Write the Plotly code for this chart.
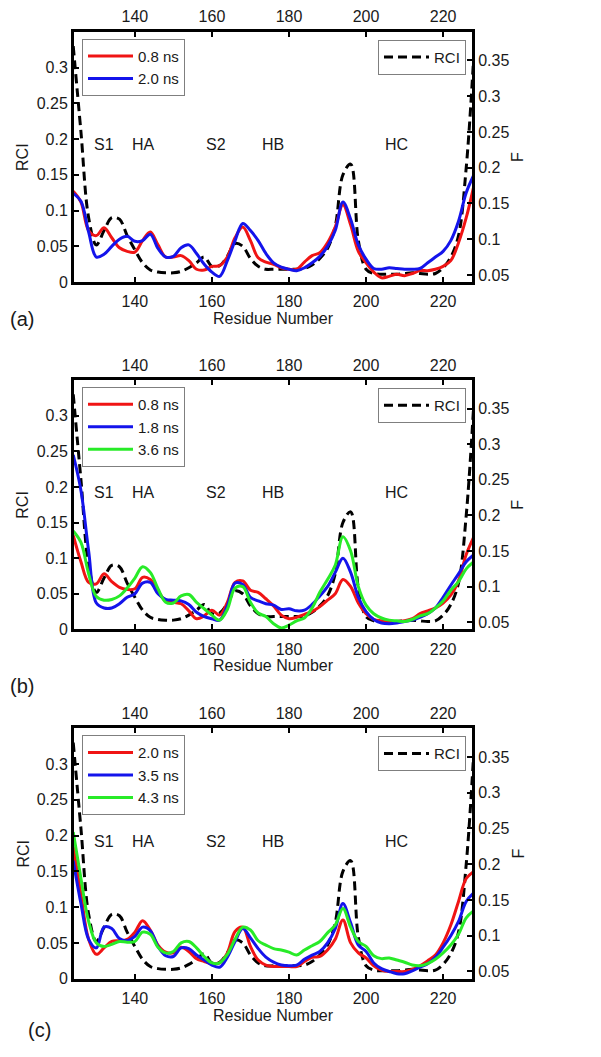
import plotly.graph_objects as go

# residue numbers, read every 2 residues
residues = list(range(124, 229, 2))

# RCI (dashed black, same in all three panels, left axis)
rci = [0.33, 0.21, 0.09, 0.052, 0.072, 0.09, 0.088, 0.065, 0.045, 0.027,
       0.017, 0.014, 0.013, 0.013, 0.015, 0.02, 0.027, 0.035, 0.022, 0.023,
       0.036, 0.054, 0.05, 0.033, 0.022, 0.018, 0.018, 0.018, 0.018, 0.018,
       0.019, 0.024, 0.033, 0.047, 0.078, 0.15, 0.165, 0.058, 0.018, 0.012,
       0.011, 0.011, 0.011, 0.012, 0.013, 0.012, 0.011, 0.012, 0.02, 0.035,
       0.065, 0.16, 0.32]

# panel (a) F values (right axis)
f_a_08 = [0.167, 0.152, 0.112, 0.105, 0.116, 0.102, 0.088, 0.083, 0.082, 0.098,
          0.110, 0.092, 0.075, 0.075, 0.077, 0.070, 0.058, 0.057, 0.062, 0.063,
          0.075, 0.102, 0.117, 0.098, 0.074, 0.068, 0.065, 0.060, 0.058, 0.058,
          0.068, 0.077, 0.081, 0.095, 0.117, 0.148, 0.120, 0.083, 0.067, 0.054,
          0.046, 0.048, 0.051, 0.049, 0.052, 0.056, 0.056, 0.058, 0.062, 0.070,
          0.095, 0.130, 0.175]
f_a_20 = [0.164, 0.153, 0.110, 0.075, 0.079, 0.090, 0.100, 0.104, 0.097, 0.098,
          0.107, 0.087, 0.075, 0.076, 0.088, 0.092, 0.080, 0.065, 0.054, 0.048,
          0.070, 0.098, 0.122, 0.112, 0.098, 0.080, 0.067, 0.061, 0.058, 0.056,
          0.060, 0.067, 0.076, 0.090, 0.112, 0.152, 0.128, 0.092, 0.072, 0.059,
          0.058, 0.060, 0.059, 0.058, 0.058, 0.059, 0.067, 0.075, 0.083, 0.098,
          0.125, 0.165, 0.190]

# panel (b)
f_b_08 = [0.172, 0.135, 0.106, 0.104, 0.118, 0.107, 0.099, 0.096, 0.097, 0.113,
          0.110, 0.094, 0.080, 0.078, 0.076, 0.066, 0.055, 0.059, 0.067, 0.060,
          0.078, 0.106, 0.108, 0.095, 0.092, 0.083, 0.073, 0.060, 0.055, 0.057,
          0.061, 0.065, 0.072, 0.081, 0.090, 0.110, 0.100, 0.077, 0.062, 0.054,
          0.052, 0.051, 0.051, 0.052, 0.055, 0.062, 0.066, 0.070, 0.077, 0.088,
          0.108, 0.145, 0.170]
f_b_18 = [0.285, 0.235, 0.150, 0.077, 0.070, 0.070, 0.076, 0.085, 0.090, 0.105,
          0.106, 0.090, 0.082, 0.081, 0.080, 0.075, 0.064, 0.058, 0.055, 0.053,
          0.073, 0.105, 0.103, 0.085, 0.080, 0.076, 0.074, 0.068, 0.069, 0.066,
          0.067, 0.075, 0.087, 0.100, 0.120, 0.140, 0.120, 0.085, 0.065, 0.054,
          0.049, 0.048, 0.049, 0.051, 0.053, 0.057, 0.062, 0.070, 0.085, 0.102,
          0.118, 0.135, 0.145]
f_b_36 = [0.178, 0.162, 0.118, 0.086, 0.081, 0.082, 0.087, 0.098, 0.112, 0.128,
          0.120, 0.097, 0.078, 0.077, 0.087, 0.089, 0.078, 0.069, 0.060, 0.053,
          0.068, 0.098, 0.100, 0.078, 0.063, 0.058, 0.048, 0.042, 0.046, 0.052,
          0.056, 0.070, 0.092, 0.110, 0.130, 0.170, 0.150, 0.100, 0.074, 0.062,
          0.056, 0.053, 0.052, 0.051, 0.054, 0.059, 0.062, 0.070, 0.080, 0.095,
          0.107, 0.125, 0.135]

# panel (c)
f_c_20 = [0.225, 0.158, 0.095, 0.074, 0.083, 0.092, 0.093, 0.095, 0.105, 0.121,
          0.108, 0.087, 0.077, 0.076, 0.084, 0.078, 0.068, 0.064, 0.061, 0.062,
          0.076, 0.106, 0.112, 0.085, 0.066, 0.059, 0.057, 0.057, 0.057, 0.057,
          0.064, 0.070, 0.071, 0.080, 0.095, 0.122, 0.090, 0.076, 0.069, 0.058,
          0.052, 0.050, 0.050, 0.050, 0.053, 0.058, 0.065, 0.073, 0.090, 0.115,
          0.148, 0.180, 0.190]
f_c_35 = [0.205, 0.145, 0.095, 0.083, 0.112, 0.110, 0.096, 0.093, 0.099, 0.112,
          0.107, 0.085, 0.072, 0.071, 0.083, 0.082, 0.073, 0.066, 0.059, 0.056,
          0.070, 0.092, 0.110, 0.097, 0.082, 0.070, 0.063, 0.059, 0.058, 0.059,
          0.067, 0.073, 0.078, 0.090, 0.110, 0.145, 0.118, 0.087, 0.078, 0.062,
          0.054, 0.050, 0.047, 0.047, 0.051, 0.056, 0.061, 0.070, 0.084, 0.100,
          0.120, 0.148, 0.160]
f_c_43 = [0.245, 0.180, 0.120, 0.090, 0.085, 0.088, 0.092, 0.091, 0.092, 0.105,
          0.102, 0.084, 0.076, 0.078, 0.090, 0.092, 0.083, 0.071, 0.062, 0.062,
          0.074, 0.095, 0.112, 0.108, 0.093, 0.087, 0.082, 0.080, 0.077, 0.073,
          0.080, 0.086, 0.092, 0.104, 0.115, 0.138, 0.112, 0.092, 0.085, 0.072,
          0.068, 0.069, 0.066, 0.063, 0.059, 0.058, 0.061, 0.067, 0.076, 0.087,
          0.102, 0.125, 0.135]

# secondary structure labels and their residue positions
region_names = ['S1', 'HA', 'S2', 'HB', 'HC']
region_pos = [132, 142.2, 161, 175.9, 207.9]

# ticks
x_ticks = [140, 160, 180, 200, 220]
rci_ticks = [0, 0.05, 0.1, 0.15, 0.2, 0.25, 0.3]
rci_ticktext = ['0', '0.05', '0.1', '0.15', '0.2', '0.25', '0.3']
f_ticks = [0.05, 0.1, 0.15, 0.2, 0.25, 0.3, 0.35]
f_ticktext = ['0.05', '0.1', '0.15', '0.2', '0.25', '0.3', '0.35']

RED = 'rgb(240,20,20)'
BLUE = 'rgb(20,20,235)'
GREEN = 'rgb(40,235,40)'
FONT = 'Arial, Liberation Sans, sans-serif'
TXT = '#1a1a1a'

# the page puts the plot 8px in from the top-left corner (body margin),
# so the figure is sized to fit and all pixel positions are shifted by OFF
OFF = 8
W, H = 585, 1041

# each panel: label, series, (top, bottom) of the frame in page pixels
panels = [
    dict(label='(a)', label_xy=(22, 320), box=(30, 283),
         series=[('0.8 ns', f_a_08, RED), ('2.0 ns', f_a_20, BLUE)]),
    dict(label='(b)', label_xy=(22, 691), box=(382, 634),
         series=[('0.8 ns', f_b_08, RED), ('1.8 ns', f_b_18, BLUE), ('3.6 ns', f_b_36, GREEN)]),
    dict(label='(c)', label_xy=(39, 1039), box=(734, 987),
         series=[('2.0 ns', f_c_20, RED), ('3.5 ns', f_c_35, BLUE), ('4.3 ns', f_c_43, GREEN)]),
]


def px(x):
    return (x - OFF) / W


def py(y):
    return 1 - (y - OFF) / H


def sx(n):
    return '' if n == 1 else str(n)


x_dom = [px(74), px(472)]

fig = go.Figure()
layout = dict(width=W, height=H, margin=dict(l=0, r=0, t=0, b=0),
              paper_bgcolor='white', plot_bgcolor='white',
              font=dict(family=FONT, size=16, color=TXT), annotations=[])

axis_common = dict(showline=True, linewidth=3, linecolor='black', mirror=False,
                   showgrid=False, zeroline=False, ticks='inside', ticklen=5,
                   tickwidth=1.5, tickcolor='black',
                   tickfont=dict(family=FONT, size=16, color=TXT))

leg_style = dict(bgcolor='white', bordercolor='#7f7f7f', borderwidth=1,
                 font=dict(family=FONT, size=15, color=TXT), itemwidth=45,
                 yanchor='top', tracegroupgap=0)

for i, p in enumerate(panels):
    xb, xt, yl, yr = 2 * i + 1, 2 * i + 2, 2 * i + 1, 2 * i + 2
    top, bot = p['box']
    y_dom = [py(bot), py(top)]
    leg_f = 'legend' if i == 0 else 'legend' + str(2 * i + 1)
    leg_r = 'legend' + str(2 * i + 2)

    # dashed RCI on the left axis
    fig.add_trace(go.Scatter(x=residues, y=rci, name='RCI', mode='lines',
                             line=dict(color='black', width=3, dash='9px,5px', shape='spline'),
                             xaxis='x' + sx(xb), yaxis='y' + sx(yl), legend=leg_r))
    # F curves on the right axis
    for name, vals, col in p['series']:
        fig.add_trace(go.Scatter(x=residues, y=vals, name=name, mode='lines',
                                 line=dict(color=col, width=3, shape='spline'),
                                 xaxis='x' + sx(xb), yaxis='y' + sx(yr), legend=leg_f))
    # empty trace so the top axis gets drawn
    fig.add_trace(go.Scatter(x=[None], y=[None], showlegend=False, hoverinfo='skip',
                             xaxis='x' + sx(xt), yaxis='y' + sx(yl)))

    layout['xaxis' + sx(xb)] = dict(axis_common, domain=x_dom, range=[124.2, 227.5],
                                    tickvals=x_ticks, anchor='y' + sx(yl),
                                    ticklabelstandoff=3)
    layout['xaxis' + sx(xt)] = dict(axis_common, range=[124.2, 227.5], tickvals=x_ticks,
                                    overlaying='x' + sx(xb), side='top', anchor='y' + sx(yl))
    layout['yaxis' + sx(yl)] = dict(axis_common, domain=y_dom, range=[0, 0.35],
                                    tickvals=rci_ticks, ticktext=rci_ticktext,
                                    anchor='x' + sx(xb))
    layout['yaxis' + sx(yr)] = dict(axis_common, range=[0.04, 0.39], tickvals=f_ticks,
                                    ticktext=f_ticktext, overlaying='y' + sx(yl),
                                    side='right', anchor='x' + sx(xb))

    layout[leg_f] = dict(leg_style, x=px(82), y=py(top + 7), xanchor='left')
    layout[leg_r] = dict(leg_style, x=px(466), y=py(top + 8), xanchor='right')

    mid = (top + bot) / 2
    lx, ly = p['label_xy']
    texts = [('RCI', 23, mid, -90, 16), ('F', 518, mid, -90, 16),
             ('Residue Number', 273, bot + 37, 0, 16), (p['label'], lx, ly, 0, 20)]
    for t, x, y, ang, size in texts:
        layout['annotations'].append(dict(
            text=t, x=px(x), y=py(y), xref='paper', yref='paper', textangle=ang,
            xanchor='center', yanchor='middle', showarrow=False, font=dict(size=size)))
    for name, pos in zip(region_names, region_pos):
        layout['annotations'].append(dict(
            text=name, x=pos, y=0.192, xref='x' + sx(xb), yref='y' + sx(yl),
            xanchor='center', yanchor='middle', showarrow=False, font=dict(size=16)))

fig.update_layout(**layout)
fig.write_html('out.html')
